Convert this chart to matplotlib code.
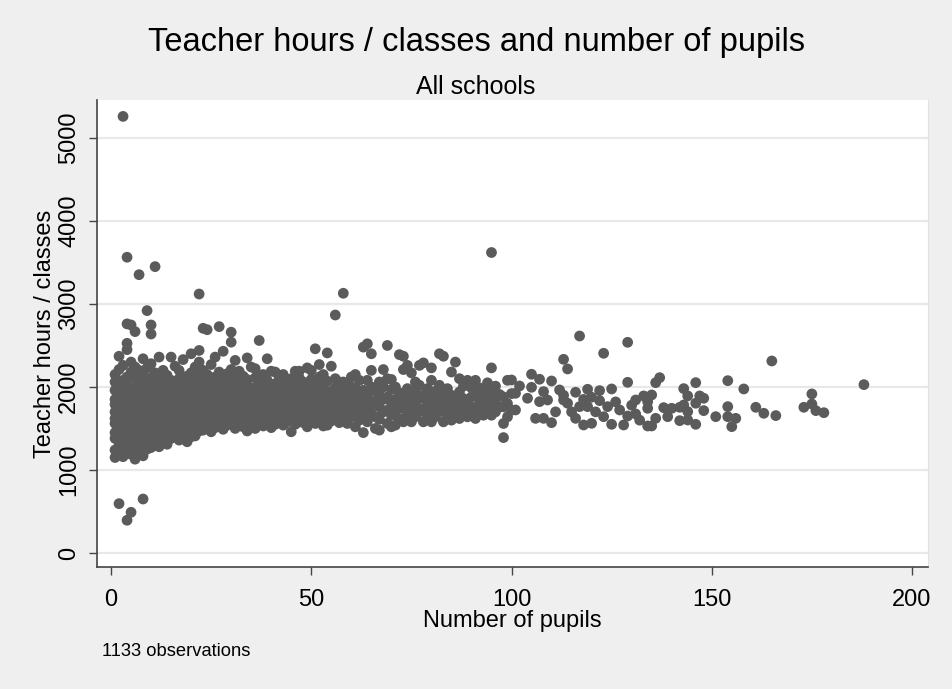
import matplotlib
matplotlib.use("Agg")
import matplotlib.pyplot as plt

plt.rcParams['font.family'] = ['Liberation Sans', 'DejaVu Sans']

# (pupils, teacher hours / classes), grouped by region
outliers = [
    (3, 5260), (4, 3563), (7, 3353), (11, 3450), (9, 2920), (22, 3120),
    (4, 2760), (5, 2747), (6, 2667), (10, 2747), (10, 2638), (4, 2526),
    (2, 594), (8, 650), (5, 490), (4, 394),
    (56, 2867), (58, 3129), (95, 3620), (117, 2614), (129, 2538), (123, 2406),
    (165, 2313),
]

small_schools = [
    (1, 1150), (1, 1240), (1, 1380), (1, 1450), (1, 1560), (1, 1620), (1, 1700), (1, 1790), (1, 1850), (1, 1960), (1, 2060), (1, 2150),
    (2, 1180), (2, 1300), (2, 1420), (2, 1510), (2, 1600), (2, 1680), (2, 1740), (2, 1820), (2, 1900), (2, 2000), (2, 2210), (2, 2370),
    (3, 1160), (3, 1270), (3, 1350), (3, 1480), (3, 1550), (3, 1640), (3, 1710), (3, 1760), (3, 1880), (3, 1950), (3, 2080), (3, 2260),
    (4, 1200), (4, 1310), (4, 1400), (4, 1500), (4, 1580), (4, 1660), (4, 1730), (4, 1800), (4, 1870), (4, 2020), (4, 2120), (4, 2450),
    (5, 1190), (5, 1290), (5, 1370), (5, 1450), (5, 1540), (5, 1620), (5, 1690), (5, 1770), (5, 1840), (5, 1930), (5, 2180), (5, 2300),
    (6, 1130), (6, 1250), (6, 1330), (6, 1440), (6, 1520), (6, 1600), (6, 1670), (6, 1750), (6, 1820), (6, 1990), (6, 2100), (6, 2240),
    (7, 1220), (7, 1300), (7, 1410), (7, 1490), (7, 1570), (7, 1650), (7, 1720), (7, 1790), (7, 1880), (7, 2050), (7, 2200),
    (8, 1170), (8, 1280), (8, 1360), (8, 1470), (8, 1550), (8, 1630), (8, 1700), (8, 1780), (8, 1860), (8, 1950), (8, 2140), (8, 2340),
    (9, 1250), (9, 1340), (9, 1430), (9, 1520), (9, 1600), (9, 1680), (9, 1760), (9, 1840), (9, 1920), (9, 2030), (9, 2230),
    (10, 1270), (10, 1380), (10, 1460), (10, 1540), (10, 1620), (10, 1700), (10, 1780), (10, 1870), (10, 2000), (10, 2110), (10, 2280),
    (11, 1300), (11, 1400), (11, 1490), (11, 1570), (11, 1650), (11, 1730), (11, 1810), (11, 1900), (11, 2050), (11, 2170),
    (12, 1280), (12, 1360), (12, 1450), (12, 1530), (12, 1610), (12, 1690), (12, 1770), (12, 1850), (12, 1960), (12, 2090), (12, 2360),
    (13, 1350), (13, 1440), (13, 1520), (13, 1600), (13, 1680), (13, 1760), (13, 1840), (13, 1930), (13, 2040), (13, 2200),
    (14, 1310), (14, 1420), (14, 1500), (14, 1580), (14, 1660), (14, 1740), (14, 1830), (14, 1910), (14, 2010), (14, 2140),
    (15, 1380), (15, 1470), (15, 1550), (15, 1640), (15, 1720), (15, 1800), (15, 1890), (15, 1980), (15, 2080), (15, 2360),
    (16, 1400), (16, 1490), (16, 1580), (16, 1670), (16, 1750), (16, 1830), (16, 1920), (16, 2020), (16, 2250),
    (17, 1360), (17, 1460), (17, 1540), (17, 1630), (17, 1710), (17, 1800), (17, 1880), (17, 1970), (17, 2100), (17, 2200),
    (18, 1420), (18, 1510), (18, 1600), (18, 1690), (18, 1770), (18, 1860), (18, 1950), (18, 2060), (18, 2330),
    (19, 1340), (19, 1450), (19, 1550), (19, 1640), (19, 1720), (19, 1810), (19, 1900), (19, 2000), (19, 2130),
    (20, 1400), (20, 1500), (20, 1590), (20, 1680), (20, 1760), (20, 1850), (20, 1940), (20, 2050), (20, 2170), (20, 2400),
    (21, 1410), (21, 1520), (21, 1620), (21, 1710), (21, 1800), (21, 1890), (21, 1990), (21, 2100), (21, 2240),
    (22, 1470), (22, 1560), (22, 1650), (22, 1740), (22, 1830), (22, 1920), (22, 2010), (22, 2130), (22, 2300), (22, 2440),
]

medium_schools = [
    (23, 1480), (23, 1590), (23, 1700), (23, 1810), (23, 1930), (23, 2060), (23, 2200), (23, 2707),
    (24, 1530), (24, 1640), (24, 1760), (24, 1880), (24, 2010), (24, 2150), (24, 2690),
    (25, 1460), (25, 1570), (25, 1690), (25, 1800), (25, 1920), (25, 2040), (25, 2270),
    (26, 1510), (26, 1620), (26, 1740), (26, 1860), (26, 1980), (26, 2120), (26, 2360),
    (27, 1550), (27, 1660), (27, 1780), (27, 1900), (27, 2030), (27, 2180), (27, 2727),
    (28, 1490), (28, 1600), (28, 1720), (28, 1840), (28, 1960), (28, 2090), (28, 2430),
    (29, 1540), (29, 1650), (29, 1770), (29, 1890), (29, 2010), (29, 2160),
    (30, 1560), (30, 1680), (30, 1800), (30, 1920), (30, 2080), (30, 2210), (30, 2540), (30, 2660),
    (31, 1500), (31, 1610), (31, 1730), (31, 1850), (31, 1970), (31, 2110), (31, 2320),
    (32, 1580), (32, 1690), (32, 1810), (32, 1930), (32, 2050), (32, 2190),
    (33, 1520), (33, 1640), (33, 1760), (33, 1880), (33, 2000), (33, 2130),
    (34, 1470), (34, 1600), (34, 1720), (34, 1840), (34, 1960), (34, 2090), (34, 2350),
    (35, 1510), (35, 1630), (35, 1750), (35, 1870), (35, 1990), (35, 2240),
    (36, 1500), (36, 1620), (36, 1740), (36, 1860), (36, 1980), (36, 2110), (36, 2220),
    (37, 1560), (37, 1680), (37, 1800), (37, 1920), (37, 2050), (37, 2560),
    (38, 1530), (38, 1650), (38, 1770), (38, 1890), (38, 2010), (38, 2150),
    (39, 1590), (39, 1710), (39, 1830), (39, 1950), (39, 2080), (39, 2340),
    (40, 1510), (40, 1620), (40, 1740), (40, 1860), (40, 1980), (40, 2190),
    (41, 1550), (41, 1670), (41, 1790), (41, 1910), (41, 2040), (41, 2180),
    (42, 1600), (42, 1720), (42, 1840), (42, 1960), (42, 2120),
    (43, 1540), (43, 1660), (43, 1780), (43, 1900), (43, 2020), (43, 2150),
    (44, 1580), (44, 1700), (44, 1820), (44, 1940), (44, 2070),
    (45, 1460), (45, 1600), (45, 1730), (45, 1850), (45, 1970), (45, 2100),
    (46, 1550), (46, 1680), (46, 1800), (46, 1920), (46, 2050), (46, 2190),
    (47, 1610), (47, 1740), (47, 1860), (47, 1980), (47, 2110), (47, 2190),
    (48, 1570), (48, 1690), (48, 1810), (48, 1930), (48, 2060),
    (49, 1520), (49, 1650), (49, 1770), (49, 1890), (49, 2010), (49, 2230),
    (50, 1600), (50, 1720), (50, 1840), (50, 1960), (50, 2090), (50, 2200),
    (51, 1560), (51, 1680), (51, 1800), (51, 1920), (51, 2040), (51, 2460),
    (52, 1620), (52, 1740), (52, 1860), (52, 1980), (52, 2120), (52, 2270),
    (53, 1530), (53, 1650), (53, 1770), (53, 1890), (53, 2010), (53, 2150),
    (54, 1540), (54, 1700), (54, 1820), (54, 1940), (54, 2070), (54, 2410),
    (55, 1590), (55, 1710), (55, 1830), (55, 1950), (55, 2250),
    (56, 1630), (56, 1750), (56, 1870), (56, 1990), (56, 2100),
    (57, 1570), (57, 1690), (57, 1810), (57, 1930), (57, 2060),
    (58, 1610), (58, 1730), (58, 1850), (58, 1970), (58, 2060),
    (59, 1560), (59, 1680), (59, 1800), (59, 1920), (59, 2040),
    (60, 1640), (60, 1760), (60, 1880), (60, 2000), (60, 2120),
]

larger_schools = [
    (61, 1520), (61, 1700), (61, 1850), (61, 1990), (61, 2150),
    (62, 1600), (62, 1760), (62, 1920), (62, 2080),
    (63, 1450), (63, 1650), (63, 1810), (63, 1960), (63, 2480),
    (64, 1580), (64, 1740), (64, 1900), (64, 2080), (64, 2520),
    (65, 1680), (65, 1830), (65, 2000), (65, 2200), (65, 2400),
    (66, 1500), (66, 1640), (66, 1790), (66, 1950),
    (67, 1480), (67, 1610), (67, 1760), (67, 1900), (67, 2060),
    (68, 1700), (68, 1850), (68, 2000), (68, 2210),
    (69, 1560), (69, 1720), (69, 1880), (69, 2100), (69, 2500),
    (70, 1520), (70, 1660), (70, 1810), (70, 1970), (70, 2090),
    (71, 1540), (71, 1700), (71, 1850), (71, 2000),
    (72, 1620), (72, 1780), (72, 1930), (72, 2390),
    (73, 1580), (73, 1740), (73, 1890), (73, 2210), (73, 2370),
    (74, 1660), (74, 1820), (74, 1980), (74, 2260),
    (75, 1580), (75, 1720), (75, 1870), (75, 2170),
    (76, 1640), (76, 1800), (76, 1960), (76, 2060),
    (77, 1700), (77, 1860), (77, 2020), (77, 2260),
    (78, 1580), (78, 1740), (78, 1900), (78, 2290),
    (79, 1660), (79, 1820), (79, 1980),
    (80, 1580), (80, 1720), (80, 1880), (80, 2080), (80, 2230),
    (81, 1640), (81, 1800), (81, 1950),
    (82, 1700), (82, 1860), (82, 2020), (82, 2400),
    (83, 1580), (83, 1760), (83, 1920), (83, 2370),
    (84, 1660), (84, 1820), (84, 1980),
    (85, 1600), (85, 1740), (85, 1900), (85, 2180),
    (86, 1680), (86, 1840), (86, 2300),
    (87, 1620), (87, 1780), (87, 1940), (87, 2100),
    (88, 1700), (88, 1860), (88, 2010),
    (89, 1640), (89, 1800), (89, 2080),
    (90, 1720), (90, 1880), (90, 1990),
    (91, 1620), (91, 1760), (91, 1920), (91, 2080),
    (92, 1700), (92, 1850), (92, 1990),
    (93, 1660), (93, 1810), (93, 1950),
    (94, 1740), (94, 1890), (94, 2050),
    (95, 1660), (95, 1800), (95, 1960), (95, 2230),
    (96, 1700), (96, 1850), (96, 2010),
    (97, 1760), (97, 1910),
    (98, 1390), (98, 1560), (98, 1760), (98, 1880),
    (99, 1640), (99, 1800), (99, 2080),
    (100, 1720), (100, 1920),
]

largest_schools = [
    (100, 2084), (105, 2153), (107, 2093), (110, 2072), (129, 2056), (125, 1976),
    (122, 1956), (119, 1972), (116, 1936), (112, 1964), (102, 2012), (105, 1996),
    (108, 1944), (120, 1876), (122, 1835), (101, 1924), (104, 1864), (107, 1823),
    (109, 1843), (113, 1843), (114, 1804), (117, 1763), (119, 1763), (124, 1763),
    (127, 1723), (131, 1843), (134, 1743), (131, 1675), (101, 1723), (106, 1622),
    (108, 1622), (110, 1570), (116, 1622), (118, 1542), (120, 1562), (123, 1642),
    (125, 1550), (128, 1542), (134, 1530), (113, 2333), (114, 2217),
    (111, 1700), (113, 1900), (115, 1700), (118, 1850), (121, 1700), (126, 1820),
    (129, 1650), (130, 1780), (132, 1600),
    (137, 2112), (136, 2052), (146, 2052), (154, 2076), (158, 1976), (143, 1980),
    (144, 1892), (147, 1892), (148, 1864), (133, 1892), (135, 1904), (134, 1823),
    (138, 1751), (140, 1743), (142, 1755), (143, 1783), (144, 1703), (146, 1804),
    (148, 1715), (139, 1642), (136, 1622), (142, 1594), (144, 1602), (151, 1642),
    (146, 1550), (135, 1530), (154, 1763), (154, 1642), (156, 1622), (155, 1522),
    (161, 1755), (163, 1683), (166, 1655), (188, 2028), (175, 1916), (175, 1795),
    (173, 1755), (176, 1715), (178, 1690),
]

n_obs = 1133
x_ticks = [0, 50, 100, 150, 200]
y_ticks = [0, 1000, 2000, 3000, 4000, 5000]

points = outliers + small_schools + medium_schools + larger_schools + largest_schools
pupils = [p[0] for p in points]
hours = [p[1] for p in points]

bg = '#efefef'
fig = plt.figure(figsize=(9.52, 6.89), dpi=100, facecolor=bg)
ax = fig.add_axes([0.1019, 0.1771, 0.8729, 0.6778])
ax.set_facecolor('white')

ax.scatter(pupils, hours, s=60, color='#5b5b5b', edgecolors='none', zorder=3)

ax.set_xlim(-3.5, 204)
ax.set_ylim(-169, 5458)
ax.set_xticks(x_ticks)
ax.set_yticks(y_ticks)
ax.set_yticklabels([str(v) for v in y_ticks], rotation=90, va='center')
ax.yaxis.grid(True, color='#e8e8e8', linewidth=1.6, zorder=0)
ax.set_axisbelow(True)

for side in ['left', 'bottom']:
    ax.spines[side].set_color('#444444')
    ax.spines[side].set_linewidth(1.2)
ax.spines['top'].set_visible(False)
ax.spines['right'].set_color('#e2e2e2')
ax.tick_params(axis='both', direction='out', length=6, width=1.0, color='#444444',
               labelsize=17)
ax.tick_params(axis='x', pad=10)
ax.tick_params(axis='y', pad=6)

ax.set_xlabel('Number of pupils', fontsize=17, labelpad=-1)
ax.set_ylabel('Teacher hours / classes', fontsize=17, labelpad=2)

fig.text(0.5, 1 - 43 / 689, 'Teacher hours / classes and number of pupils',
         ha='center', va='center', fontsize=23.5)
fig.text(0.5, 1 - 87 / 689, 'All schools', ha='center', va='center', fontsize=18)
fig.text(102 / 952, 1 - 652 / 689, f'{n_obs} observations', ha='left', va='center',
         fontsize=13.2)

fig.savefig('out.png', dpi=100, facecolor=bg)
